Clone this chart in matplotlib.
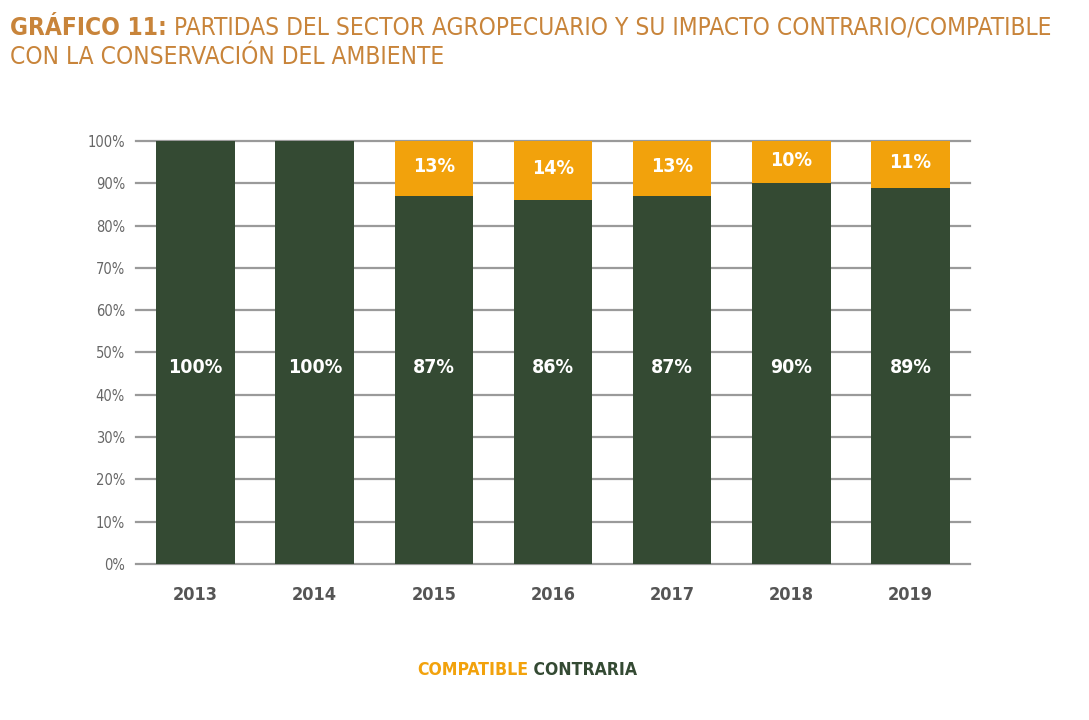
import matplotlib
matplotlib.use("Agg")
import matplotlib.pyplot as plt
import numpy as np

years = ["2013", "2014", "2015", "2016", "2017", "2018", "2019"]
contraria = [100, 100, 87, 86, 87, 90, 89]
compatible = [0, 0, 13, 14, 13, 10, 11]

green = "#344a33"
orange = "#f2a20c"
title_col = "#c8843a"

plt.rcParams['font.family'] = ["DejaVu Sans"]
plt.rcParams['font.stretch'] = "condensed"

fig = plt.figure(figsize=(10.89, 7.2), dpi=100)
ax = fig.add_axes([0.1249, 0.2167, 0.7658, 0.5875])

x = np.arange(len(years))
ax.bar(x, contraria, width=0.66, color=green, zorder=2)
ax.bar(x, compatible, width=0.66, bottom=contraria, color=orange, zorder=2)

for i in range(len(years)):
    ax.text(x[i], 46.5, "%d%%" % contraria[i], ha="center", va="center",
            color="white", fontsize=14, fontweight="bold", zorder=3)
    if compatible[i] > 0:
        ax.text(x[i], contraria[i] + compatible[i] / 2 + 0.5, "%d%%" % compatible[i],
                ha="center", va="center", color="white", fontsize=14,
                fontweight="bold", zorder=3)

ax.set_xlim(-0.5, len(years) - 0.5)
ax.set_ylim(0, 100)
ax.set_yticks(range(0, 101, 10))
ax.set_yticklabels(["%d%%" % v for v in range(0, 101, 10)], color="#666666", fontsize=10.5)
ax.set_xticks(x)
ax.set_xticklabels(years, color="#555555", fontsize=13, fontweight="bold")
ax.tick_params(axis="both", length=0)
ax.tick_params(axis="y", pad=8)
ax.tick_params(axis="x", pad=16)
ax.yaxis.grid(True, color="#9a9a9a", linewidth=1.6, zorder=1)
ax.set_axisbelow(True)
for gl in ax.get_ygridlines():
    gl.set_clip_on(False)
for s in ax.spines.values():
    s.set_visible(False)

renderer = fig.canvas.get_renderer()


def text_after(prev, s, **kw):
    bb = prev.get_window_extent(renderer)
    x0 = bb.x1 / fig.bbox.width
    return fig.text(x0, prev.get_position()[1], s, **kw)


t1 = fig.text(0.009, 0.952, "GRÁFICO 11:", color=title_col, fontsize=17.6, fontweight="bold")
text_after(t1, " PARTIDAS DEL SECTOR AGROPECUARIO Y SU IMPACTO CONTRARIO/COMPATIBLE",
           color=title_col, fontsize=17.6)
fig.text(0.009, 0.911, "CON LA CONSERVACIÓN DEL AMBIENTE", color=title_col, fontsize=17.6)

l1 = fig.text(0.383, 0.062, "COMPATIBLE", color=orange, fontsize=12.6, fontweight="bold")
text_after(l1, " CONTRARIA", color=green, fontsize=12.6, fontweight="bold")

fig.savefig("out.png", dpi=100)
